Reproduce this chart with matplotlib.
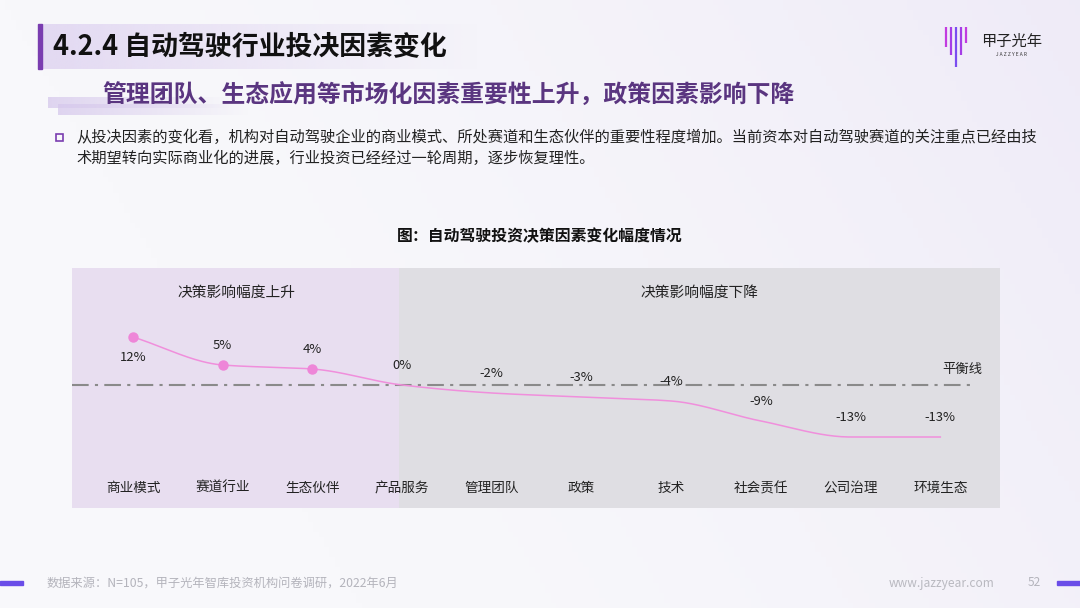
import numpy as np
import matplotlib
matplotlib.use("Agg")
import matplotlib.pyplot as plt
from matplotlib.transforms import blended_transform_factory
from matplotlib.patches import Rectangle

plt.rcParams['font.family'] = ['Noto Sans CJK SC', 'DejaVu Sans']

# ---------------- data ----------------
categories = ["商业模式", "赛道行业", "生态伙伴", "产品服务", "管理团队",
              "政策", "技术", "社会责任", "公司治理", "环境生态"]
values = [12, 5, 4, 0, -2, -3, -4, -9, -13, -13]
value_labels = ["12%", "5%", "4%", "0%", "-2%", "-3%", "-4%", "-9%", "-13%", "-13%"]
n_rising = 3  # first three categories rise (marked with dots)

title = "4.2.4 自动驾驶行业投决因素变化"
subtitle = "管理团队、生态应用等市场化因素重要性上升，政策因素影响下降"
bullet_lines = ["从投决因素的变化看，机构对自动驾驶企业的商业模式、所处赛道和生态伙伴的重要性程度增加。当前资本对自动驾驶赛道的关注重点已经由技",
                "术期望转向实际商业化的进展，行业投资已经经过一轮周期，逐步恢复理性。"]
chart_title = "图：自动驾驶投资决策因素变化幅度情况"
region_up = "决策影响幅度上升"
region_down = "决策影响幅度下降"
balance_label = "平衡线"
source = "数据来源：N=105，甲子光年智库投资机构问卷调研，2022年6月"
website = "www.jazzyear.com"
page_no = "52"

W, H = 1080, 608
fig = plt.figure(figsize=(W / 100, H / 100), dpi=100)

# ---------------- background / decoration layer (pixel coords) ----------------
bg = fig.add_axes([0, 0, 1, 1])
bg.set_xlim(0, W)
bg.set_ylim(H, 0)
bg.axis("off")

gx = np.linspace(0, 1, 200)
gy = np.linspace(0, 1, 120)
GX, GY = np.meshgrid(gx, gy)
t = np.clip(0.75 * GX + 0.25 * (1 - GY) - 0.25, 0, 1) ** 1.5
c0 = np.array([248, 248, 251]) / 255
c1 = np.array([234, 228, 246]) / 255
img = c0[None, None, :] * (1 - t[..., None]) + c1[None, None, :] * t[..., None]
bg.imshow(img, extent=[0, W, H, 0], aspect="auto", zorder=0)

# title gradient band
band = np.zeros((2, 200, 4))
band[..., :3] = np.array([226, 216, 242]) / 255
band[..., 3] = np.linspace(0.95, 0.0, 200)[None, :]
bg.imshow(band, extent=[40, 480, 69, 24], aspect="auto", zorder=1)
bg.add_patch(Rectangle((38, 24), 3.5, 45, color="#7a3db0", zorder=2))
bg.text(53, 47, title, fontsize=19.4, fontweight="bold", color="#111111",
        va="center", ha="left", zorder=3)

# subtitle decorative stripes
for (x0, y0, y1, x1) in [(48, 97, 108, 230), (58, 104, 115, 250)]:
    s = np.zeros((2, 200, 4))
    s[..., :3] = np.array([214, 200, 236]) / 255
    s[..., 3] = np.linspace(0.75, 0.0, 200)[None, :]
    bg.imshow(s, extent=[x0, x1, y1, y0], aspect="auto", zorder=1)
bg.text(102, 95, subtitle, fontsize=17.2, fontweight="bold", color="#5a3580",
        va="center", ha="left", zorder=3)

# logo
logo_x = [946, 951, 956, 961, 966]
logo_bottom = [47, 55, 67, 55, 43]
logo_cols = ["#c23be0", "#a53ee6", "#7b4cf0", "#a53ee6", "#c23be0"]
for lx, lb, lc in zip(logo_x, logo_bottom, logo_cols):
    bg.plot([lx, lx], [27, lb], color=lc, lw=1.6, solid_capstyle="butt", zorder=3)
bg.text(981, 41, "甲子光年", fontsize=11, color="#222222", va="center", ha="left",
        family=["Noto Sans CJK SC"], zorder=3)
bg.text(1011, 54, "J A Z Z Y E A R", fontsize=3.5, color="#333333", va="center",
        ha="center", zorder=3)

# bullet
bg.add_patch(Rectangle((55.5, 133.5), 7, 7, fill=False, ec="#7a3db0", lw=1.2, zorder=3))
bg.text(76, 137, bullet_lines[0], fontsize=11.0, color="#222222", va="center", ha="left", zorder=3)
bg.text(76, 158, bullet_lines[1], fontsize=11.0, color="#222222", va="center", ha="left", zorder=3)

bg.text(540, 236, chart_title, fontsize=11.4, fontweight="bold", color="#111111",
        va="center", ha="center", zorder=3)

# footer
bg.add_patch(Rectangle((0, 581), 23, 4, color="#6a4de8", zorder=3))
bg.add_patch(Rectangle((1057, 581), 23, 4, color="#6a4de8", zorder=3))
bg.text(47, 583, source, fontsize=8.8, color="#b4b4bc", va="center", ha="left", zorder=3)
bg.text(994, 583, website, fontsize=8.6, color="#b9b9c0", va="center", ha="right", zorder=3)
bg.text(1034, 583, page_no, fontsize=8.6, color="#b4b4bc", va="center", ha="center", zorder=3)

# ---------------- chart ----------------
pl, pr, pt, pb = 72, 1000, 268, 508
ax = fig.add_axes([pl / W, 1 - pb / H, (pr - pl) / W, (pb - pt) / H])
x = np.arange(len(categories))
step = 89.7
x_left = (pl - 133) / step
x_right = (pr - 133) / step
ax.set_xlim(x_left, x_right)
ax.set_ylim(-(pb - 385) / 4, (385 - pt) / 4)
ax.axis("off")

ax.axvspan(x_left, n_rising - 0.03, color="#e8def0", zorder=0, lw=0)
ax.axvspan(n_rising - 0.03, x_right, color="#dfdee3", zorder=0, lw=0)

# balance line
ax.plot([x_left, x[-1] + 0.4], [0, 0], color="#8a8a8a", lw=1.5,
        linestyle=(0, (8, 3, 1.5, 3)), zorder=2)
ax.text(x[-1] + 0.25, 16 / 4, balance_label, fontsize=9.6, color="#222222",
        ha="center", va="center", zorder=3)

# smooth monotone cubic curve through the data
xv = x.astype(float)
yv = np.array(values, dtype=float)
h = np.diff(xv)
d = np.diff(yv) / h
m = np.zeros_like(yv)
m[0], m[-1] = d[0], d[-1]
for i in range(1, len(yv) - 1):
    if d[i - 1] * d[i] <= 0:
        m[i] = 0
    else:
        m[i] = 2 / (1 / d[i - 1] + 1 / d[i])
xs, ys = [], []
for i in range(len(xv) - 1):
    tt = np.linspace(0, 1, 40)
    h00 = 2 * tt**3 - 3 * tt**2 + 1
    h10 = tt**3 - 2 * tt**2 + tt
    h01 = -2 * tt**3 + 3 * tt**2
    h11 = tt**3 - tt**2
    xs.append(xv[i] + tt * h[i])
    ys.append(h00 * yv[i] + h10 * h[i] * m[i] + h01 * yv[i + 1] + h11 * h[i] * m[i + 1])
ax.plot(np.concatenate(xs), np.concatenate(ys), color="#f08fdc", lw=1.1, zorder=3)
ax.plot(x[:n_rising], values[:n_rising], "o", color="#ee86d8", ms=6.5, zorder=4)

for i, (xi, v, lab) in enumerate(zip(x, values, value_labels)):
    off = -15 if i == 0 else 14
    ax.annotate(lab, (xi, v), xytext=(0, off), textcoords="offset points",
                ha="center", va="center", fontsize=9.4, color="#222222", zorder=5)

trans = blended_transform_factory(ax.transData, ax.transAxes)
for xi, cat in zip(x, categories):
    ax.text(xi, (pb - 488) / (pb - pt), cat, transform=trans, fontsize=9.8,
            color="#222222", ha="center", va="center", zorder=5)

ax.text(((236 - 133) / step), (pb - 293) / (pb - pt), region_up, transform=trans,
        fontsize=10.6, color="#222222", ha="center", va="center", zorder=5)
ax.text(((699 - 133) / step), (pb - 293) / (pb - pt), region_down, transform=trans,
        fontsize=10.6, color="#222222", ha="center", va="center", zorder=5)

fig.savefig("out.png", dpi=100)
